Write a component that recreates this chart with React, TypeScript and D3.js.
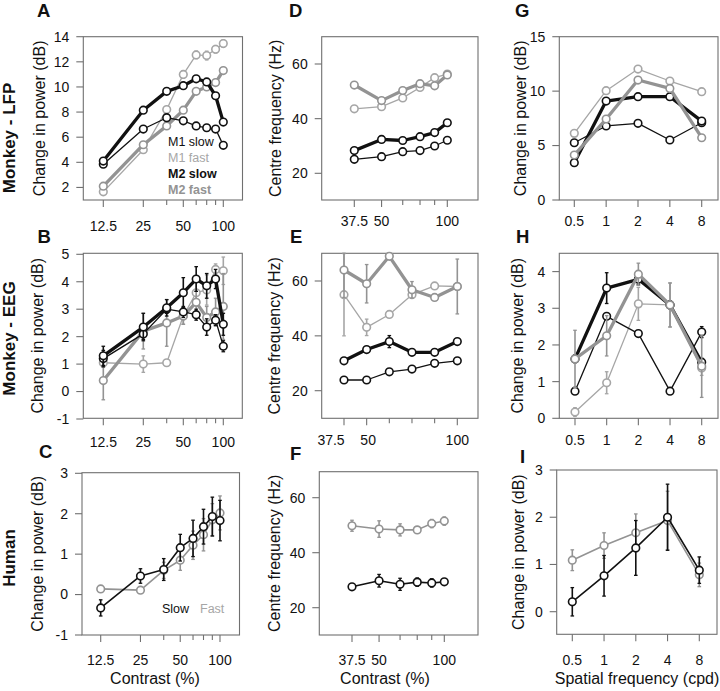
import React from 'react';
import * as d3 from 'd3';

// ---------- data ----------
const contrast8 = [12.5, 25, 37.5, 50, 62.5, 75, 87.5, 100];
const contrast6 = [37.5, 50, 62.5, 75, 87.5, 100];
const spatialFreq = [0.5, 1, 2, 4, 8];

const contrastTickLabels8 = [12.5, 25, 50, 100];
const contrastTickLabels6 = [37.5, 50, 100];

// A: Monkey LFP power vs contrast
const lfpM1Slow = [3.85, 6.65, 7.55, 7.3, 6.9, 6.75, 6.65, 5.35];
const lfpM1Fast = [1.65, 5.0, 8.2, 11.0, 12.55, 12.5, 13.0, 13.45];
const lfpM1FastErr = [0.1, 0.15, 0.15, 0.3, 0.3, 0.35, 0.3, 0.3];
const lfpM2Slow = [4.1, 8.15, 9.65, 10.1, 10.65, 10.4, 9.3, 7.2];
const lfpM2Fast = [2.1, 5.4, 6.9, 8.15, 9.65, 10.0, 10.35, 11.3];

// B: Monkey EEG power vs contrast
const eegM1Slow = [1.2, 2.1, 3.0, 2.9, 2.8, 2.35, 2.6, 1.65];
const eegM1SlowErr = [0.3, 0.2, 0.15, 0.2, 0.2, 0.3, 0.2, 0.2];
const eegM2Slow = [1.3, 2.35, 3.05, 3.6, 4.1, 3.85, 4.1, 2.45];
const eegM2SlowErr = [0.35, 0.5, 0.3, 0.55, 0.45, 0.45, 0.35, 0.4];
const eegM1Fast = [1.05, 1.0, 1.05, 2.75, 3.6, 3.7, 4.45, 4.4];
const eegM1FastErr = [0.15, 0.3, 0.1, 0.3, 0.4, 0.55, 0.2, 0.5];
const eegM2Fast = [0.4, 2.2, 2.5, 2.75, 3.25, 2.7, 2.9, 3.1];
const eegM2FastErr = [0.7, 0.65, 0.85, 0.3, 0.4, 0.4, 0.5, 1.2];

// C: Human power vs contrast
const humSlow = [-0.33, 0.46, 0.62, 1.16, 1.39, 1.68, 1.93, 1.83];
const humSlowErr = [0.2, 0.18, 0.27, 0.33, 0.45, 0.43, 0.48, 0.5];
const humFast = [0.14, 0.11, 0.6, 0.85, 1.22, 1.48, 1.85, 2.02];
const humFastErr = [0.03, 0.03, 0.2, 0.25, 0.35, 0.4, 0.4, 0.42];

// D: Monkey LFP centre frequency vs contrast
const cfLfpM1Slow = [25.1, 26.1, 27.9, 28.3, 30.0, 32.1];
const cfLfpM2Slow = [28.3, 32.4, 32.0, 33.4, 34.9, 38.5];
const cfLfpM1Fast = [43.6, 44.4, 47.6, 51.4, 55.0, 56.3];
const cfLfpM2Fast = [52.3, 46.6, 50.3, 52.8, 52.0, 56.0];

// E: Monkey EEG centre frequency vs contrast
const cfEegM1Slow = [23.9, 23.9, 26.9, 27.9, 30.0, 30.9];
const cfEegM2Slow = [30.9, 35.0, 37.9, 34.0, 34.0, 37.9];
const cfEegM2SlowErr = [0.5, 0.5, 2.2, 0.5, 0.5, 0.5];
const cfEegM1Fast = [55.0, 43.1, 47.8, 55.0, 58.2, 58.0];
const cfEegM1FastErr = [15, 3, 0.5, 1, 0.5, 1];
const cfEegM2Fast = [64.0, 59.0, 69.0, 56.8, 54.0, 58.0];
const cfEegM2FastErr = [10, 7, 1, 3, 1, 10];

// F: Human centre frequency vs contrast
const cfHumSlow = [27.6, 29.8, 28.5, 29.3, 29.0, 29.4];
const cfHumSlowErr = [1.0, 2.3, 2.2, 1.5, 1.5, 1.0];
const cfHumFast = [49.8, 48.6, 48.3, 48.3, 50.6, 51.5];
const cfHumFastErr = [2, 3, 2.2, 1, 1.5, 1.5];

// G: Monkey LFP power vs spatial frequency
const sfLfpM1Slow = [5.26, 6.8, 7.04, 5.51, 7.1];
const sfLfpM2Slow = [3.43, 9.09, 9.49, 9.49, 7.25];
const sfLfpM1Fast = [6.12, 10.04, 12.03, 10.93, 9.95];
const sfLfpM2Fast = [4.13, 7.44, 11.02, 10.25, 5.72];

// H: Monkey EEG power vs spatial frequency
const sfEegM1Slow = [0.74, 2.78, 2.31, 0.74, 2.35];
const sfEegM1SlowErr = [0.05, 0.05, 0.05, 0.05, 0.15];
const sfEegM2Slow = [1.62, 3.55, 3.79, 3.09, 1.53];
const sfEegM2SlowErr = [0.1, 0.42, 0.15, 0.1, 0.1];
const sfEegM1Fast = [0.17, 0.97, 3.12, 3.09, 1.37];
const sfEegM1FastErr = [0.12, 0.3, 0.45, 0.6, 0.2];
const sfEegM2Fast = [1.62, 2.25, 3.93, 3.09, 1.42];
const sfEegM2FastErr = [0.78, 0.55, 0.3, 0.6, 0.85];

// I: Human power vs spatial frequency
const sfHumSlow = [0.21, 0.76, 1.35, 2.0, 0.88];
const sfHumSlowErr = [0.3, 0.43, 0.58, 0.7, 0.28];
const sfHumFast = [1.09, 1.4, 1.67, 1.93, 0.78];
const sfHumFastErr = [0.22, 0.27, 0.4, 0.62, 0.25];

// ---------- styles ----------
const FONT = "'Liberation Sans', Arial, Helvetica, sans-serif";
const BLACK = '#111111';
const LIGHT = '#a6a6a6';
const MID = '#939393';
const FRAME = '#707070';
const THICK = 3.3;
const THIN = 1.3;

type Series = { x: number[]; y: number[]; err?: number[]; color: string; width: number };
type PanelCfg = {
  letter: string;
  letterPos: [number, number];
  box: [number, number, number, number]; // x0, x1, y0, y1
  xType: 'log' | 'linear';
  xAnchor: [number, number, number, number]; // v1, p1, v2, p2
  yAnchor: [number, number, number, number];
  xTicks: number[];
  xMinor: number[];
  xLabelOffset: number;
  xLabelShift?: Record<string, number>;
  yTicks: number[];
  yTitle: string;
  yTitleX: number;
  series: Series[];
};

function makeX(cfg: PanelCfg) {
  const [v1, p1, v2, p2] = cfg.xAnchor;
  const [x0, x1] = cfg.box;
  if (cfg.xType === 'log') {
    const k = (p2 - p1) / Math.log(v2 / v1);
    const d0 = v1 * Math.exp((x0 - p1) / k);
    const d1 = v1 * Math.exp((x1 - p1) / k);
    return d3.scaleLog().domain([d0, d1]).range([x0, x1]);
  }
  const k = (p2 - p1) / (v2 - v1);
  return d3.scaleLinear().domain([v1 + (x0 - p1) / k, v1 + (x1 - p1) / k]).range([x0, x1]);
}
function makeY(cfg: PanelCfg) {
  const [v1, p1, v2, p2] = cfg.yAnchor;
  const [, , y0, y1] = cfg.box;
  const k = (p2 - p1) / (v2 - v1);
  return d3.scaleLinear().domain([v1 + (y1 - p1) / k, v1 + (y0 - p1) / k]).range([y1, y0]);
}

function Panel({ cfg }: { cfg: PanelCfg }) {
  const x = makeX(cfg);
  const y = makeY(cfg);
  const [x0, x1, y0, y1] = cfg.box;
  const line = d3.line<[number, number]>().x((d) => x(d[0])).y((d) => y(d[1]));
  const clampY = (v: number) => Math.max(y0, Math.min(y1, v));
  return (
    <g>
      <text x={cfg.letterPos[0]} y={cfg.letterPos[1]} fontSize={18.5} fontWeight="bold" fill={BLACK}>
        {cfg.letter}
      </text>
      <rect x={x0} y={y0} width={x1 - x0} height={y1 - y0} fill="none" stroke={FRAME} strokeWidth={1.1} />
      {cfg.xTicks.map((t) => (
        <g key={'xt' + t}>
          <line x1={x(t)} x2={x(t)} y1={y1} y2={y1 + 7} stroke={FRAME} strokeWidth={1.1} />
          <text
            x={x(t) + ((cfg.xLabelShift && cfg.xLabelShift[String(t)]) || 0)}
            y={y1 + cfg.xLabelOffset}
            fontSize={14}
            textAnchor="middle"
            fill={BLACK}
          >
            {t}
          </text>
        </g>
      ))}
      {cfg.xMinor.map((t) => (
        <line key={'xm' + t} x1={x(t)} x2={x(t)} y1={y1} y2={y1 + 5} stroke={FRAME} strokeWidth={1.1} />
      ))}
      {cfg.yTicks.map((t) => (
        <g key={'yt' + t}>
          <line x1={x0 - 7} x2={x0} y1={y(t)} y2={y(t)} stroke={FRAME} strokeWidth={1.1} />
          <text x={x0 - 14} y={y(t)} dy="0.35em" fontSize={14} textAnchor="end" fill={BLACK}>
            {t}
          </text>
        </g>
      ))}
      <text
        transform={`translate(${cfg.yTitleX},${(y0 + y1) / 2}) rotate(-90)`}
        fontSize={16}
        textAnchor="middle"
        dy="0.35em"
        fill={BLACK}
      >
        {cfg.yTitle}
      </text>
      {cfg.series.map((s, si) => (
        <g key={'s' + si}>
          {s.err &&
            s.x.map((xv, i) => {
              const e = s.err![i];
              const ya = clampY(y(s.y[i] + e));
              const yb = clampY(y(s.y[i] - e));
              const cx = x(xv);
              return (
                <g key={'e' + i}>
                  <line x1={cx} x2={cx} y1={ya} y2={yb} stroke={s.color} strokeWidth={1.6} />
                  <line x1={cx - 1.8} x2={cx + 1.8} y1={ya} y2={ya} stroke={s.color} strokeWidth={1.3} />
                  <line x1={cx - 1.8} x2={cx + 1.8} y1={yb} y2={yb} stroke={s.color} strokeWidth={1.3} />
                </g>
              );
            })}
          <path
            d={line(s.x.map((xv, i) => [xv, s.y[i]] as [number, number])) || ''}
            fill="none"
            stroke={s.color}
            strokeWidth={s.width}
            strokeLinejoin="round"
          />
          {s.x.map((xv, i) => (
            <circle key={'c' + i} cx={x(xv)} cy={y(s.y[i])} r={3.8} fill="#fff" stroke={s.color} strokeWidth={1.6} />
          ))}
        </g>
      ))}
    </g>
  );
}

const contrastMinor8 = [37.5, 62.5, 75, 87.5];
const contrastMinor6 = [62.5, 75, 87.5];

const panels: PanelCfg[] = [
  {
    letter: 'A', letterPos: [37, 17], box: [83.3, 242.5, 36.7, 200], xType: 'log',
    xAnchor: [12.5, 103.3, 100, 223.3], yAnchor: [14, 36.7, 1, 200],
    xTicks: contrastTickLabels8, xMinor: contrastMinor8, xLabelOffset: 30.5,
    yTicks: [2, 4, 6, 8, 10, 12, 14], yTitle: 'Change in power (dB)', yTitleX: 39,
    series: [
      { x: contrast8, y: lfpM1Fast, err: lfpM1FastErr, color: LIGHT, width: THIN },
      { x: contrast8, y: lfpM2Fast, color: MID, width: THICK },
      { x: contrast8, y: lfpM1Slow, color: BLACK, width: THIN },
      { x: contrast8, y: lfpM2Slow, color: BLACK, width: THICK },
    ],
  },
  {
    letter: 'B', letterPos: [37.5, 243.3], box: [83.3, 242.3, 253.3, 418.3], xType: 'log',
    xAnchor: [12.5, 103.3, 100, 223.3], yAnchor: [5, 254.3, -1, 419],
    xTicks: contrastTickLabels8, xMinor: contrastMinor8, xLabelOffset: 28.5,
    yTicks: [-1, 0, 1, 2, 3, 4, 5], yTitle: 'Change in power (dB)', yTitleX: 37,
    series: [
      { x: contrast8, y: eegM1Fast, err: eegM1FastErr, color: LIGHT, width: THIN },
      { x: contrast8, y: eegM2Fast, err: eegM2FastErr, color: MID, width: THICK },
      { x: contrast8, y: eegM1Slow, err: eegM1SlowErr, color: BLACK, width: THIN },
      { x: contrast8, y: eegM2Slow, err: eegM2SlowErr, color: BLACK, width: THICK },
    ],
  },
  {
    letter: 'C', letterPos: [39, 458.3], box: [82, 239.5, 472.7, 635], xType: 'log',
    xAnchor: [12.5, 100.7, 100, 220], yAnchor: [3, 473.3, -1, 635],
    xTicks: contrastTickLabels8, xMinor: contrastMinor8, xLabelOffset: 30,
    yTicks: [-1, 0, 1, 2, 3], yTitle: 'Change in power (dB)', yTitleX: 37.5,
    series: [
      { x: contrast8, y: humFast, err: humFastErr, color: MID, width: 1.6 },
      { x: contrast8, y: humSlow, err: humSlowErr, color: BLACK, width: 1.6 },
    ],
  },
  {
    letter: 'D', letterPos: [289, 17], box: [321.7, 478, 36.7, 200], xType: 'log',
    xAnchor: [37.5, 354.3, 100, 447.3], yAnchor: [60, 64, 20, 173.3],
    xTicks: contrastTickLabels6, xMinor: contrastMinor6, xLabelOffset: 25.5,
    yTicks: [20, 40, 60], yTitle: 'Centre frequency (Hz)', yTitleX: 275,
    series: [
      { x: contrast6, y: cfLfpM1Fast, color: LIGHT, width: THIN },
      { x: contrast6, y: cfLfpM2Fast, color: MID, width: THICK },
      { x: contrast6, y: cfLfpM1Slow, color: BLACK, width: THIN },
      { x: contrast6, y: cfLfpM2Slow, color: BLACK, width: THICK },
    ],
  },
  {
    letter: 'E', letterPos: [290, 242.7], box: [321.7, 478, 253.3, 418.3], xType: 'linear',
    xAnchor: [37.5, 344, 100, 457.3], yAnchor: [60, 281, 20, 390.7],
    xTicks: contrastTickLabels6, xMinor: contrastMinor6, xLabelOffset: 26.5,
    xLabelShift: { '37.5': -13, '50': 1.5 },
    yTicks: [20, 40, 60], yTitle: 'Centre frequency (Hz)', yTitleX: 274.5,
    series: [
      { x: contrast6, y: cfEegM1Fast, err: cfEegM1FastErr, color: LIGHT, width: THIN },
      { x: contrast6, y: cfEegM2Fast, err: cfEegM2FastErr, color: MID, width: THICK },
      { x: contrast6, y: cfEegM1Slow, color: BLACK, width: THIN },
      { x: contrast6, y: cfEegM2Slow, err: cfEegM2SlowErr, color: BLACK, width: THICK },
    ],
  },
  {
    letter: 'F', letterPos: [290, 460], box: [319.3, 478, 471.7, 635], xType: 'log',
    xAnchor: [37.5, 352, 100, 444.3], yAnchor: [60, 497.7, 20, 607.7],
    xTicks: contrastTickLabels6, xMinor: contrastMinor6, xLabelOffset: 30,
    yTicks: [20, 40, 60], yTitle: 'Centre frequency (Hz)', yTitleX: 274,
    series: [
      { x: contrast6, y: cfHumFast, err: cfHumFastErr, color: MID, width: 1.6 },
      { x: contrast6, y: cfHumSlow, err: cfHumSlowErr, color: BLACK, width: 1.6 },
    ],
  },
  {
    letter: 'G', letterPos: [515, 17], box: [559.3, 718, 36.7, 200], xType: 'log',
    xAnchor: [0.5, 574.3, 8, 701.7], yAnchor: [15, 36.7, 0, 200],
    xTicks: spatialFreq, xMinor: [], xLabelOffset: 25.5,
    yTicks: [0, 5, 10, 15], yTitle: 'Change in power (dB)', yTitleX: 520,
    series: [
      { x: spatialFreq, y: sfLfpM1Fast, color: LIGHT, width: THIN },
      { x: spatialFreq, y: sfLfpM1Slow, color: BLACK, width: THIN },
      { x: spatialFreq, y: sfLfpM2Slow, color: BLACK, width: THICK },
      { x: spatialFreq, y: sfLfpM2Fast, color: MID, width: THICK },
    ],
  },
  {
    letter: 'H', letterPos: [516, 242.7], box: [559.3, 718, 253.3, 418.3], xType: 'log',
    xAnchor: [0.5, 575, 8, 701.7], yAnchor: [4, 271.6, 0, 418.3],
    xTicks: spatialFreq, xMinor: [], xLabelOffset: 26.5,
    yTicks: [0, 1, 2, 3, 4], yTitle: 'Change in power (dB)', yTitleX: 517.5,
    series: [
      { x: spatialFreq, y: sfEegM1Fast, err: sfEegM1FastErr, color: LIGHT, width: THIN },
      { x: spatialFreq, y: sfEegM1Slow, err: sfEegM1SlowErr, color: BLACK, width: THIN },
      { x: spatialFreq, y: sfEegM2Slow, err: sfEegM2SlowErr, color: BLACK, width: THICK },
      { x: spatialFreq, y: sfEegM2Fast, err: sfEegM2FastErr, color: MID, width: THICK },
    ],
  },
  {
    letter: 'I', letterPos: [520, 462.7], box: [556.7, 717, 470, 634.3], xType: 'log',
    xAnchor: [0.5, 572.3, 8, 699.3], yAnchor: [3, 470, 0, 611.7],
    xTicks: spatialFreq, xMinor: [], xLabelOffset: 31,
    yTicks: [0, 1, 2, 3], yTitle: 'Change in power (dB)', yTitleX: 518.5,
    series: [
      { x: spatialFreq, y: sfHumFast, err: sfHumFastErr, color: MID, width: 1.6 },
      { x: spatialFreq, y: sfHumSlow, err: sfHumSlowErr, color: BLACK, width: 1.6 },
    ],
  },
];

const rowLabels: [string, number][] = [
  ['Monkey - LFP', 138],
  ['Monkey - EEG', 338.5],
  ['Human', 558],
];

const legendA: [string, string, string, number][] = [
  ['M1 slow', BLACK, 'normal', 142],
  ['M1 fast', LIGHT, 'normal', 157.5],
  ['M2 slow', BLACK, 'bold', 174],
  ['M2 fast', MID, 'bold', 189.5],
];

export default function App() {
  return (
    <svg
      width={720}
      height={691}
      viewBox="0 0 720 691"
      style={{ position: 'absolute', left: 0, top: 0, background: '#fff' }}
      fontFamily={FONT}
    >
      <rect x={0} y={0} width={720} height={691} fill="#fff" />
      {panels.map((p) => (
        <Panel key={p.letter} cfg={p} />
      ))}
      {rowLabels.map(([t, cy]) => (
        <text
          key={t}
          transform={`translate(9,${cy}) rotate(-90)`}
          fontSize={17}
          fontWeight="bold"
          textAnchor="middle"
          dy="0.35em"
          fill={BLACK}
        >
          {t}
        </text>
      ))}
      {legendA.map(([t, c, w, cy]) => (
        <text key={t} x={168} y={cy} dy="0.35em" fontSize={12.5} fontWeight={w} fill={c}>
          {t}
        </text>
      ))}
      <text x={162} y={609} dy="0.35em" fontSize={12.5} fill={BLACK}>Slow</text>
      <text x={200} y={609} dy="0.35em" fontSize={12.5} fill={LIGHT}>Fast</text>
      <text x={155} y={678} dy="0.35em" fontSize={16} textAnchor="middle" fill={BLACK}>Contrast (%)</text>
      <text x={385} y={678} dy="0.35em" fontSize={16} textAnchor="middle" fill={BLACK}>Contrast (%)</text>
      <text x={637} y={678} dy="0.35em" fontSize={16} textAnchor="middle" fill={BLACK}>Spatial frequency (cpd)</text>
    </svg>
  );
}
